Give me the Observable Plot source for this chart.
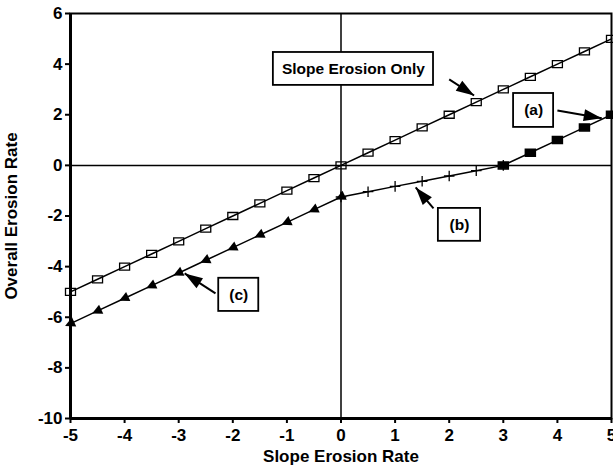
<!DOCTYPE html>
<html><head><meta charset="utf-8">
<script src="https://cdn.jsdelivr.net/npm/d3@7"></script>
<script src="https://cdn.jsdelivr.net/npm/@observablehq/plot@0.6"></script>
<style>body{margin:0;background:#fff}</style>
</head><body><div id="chart"></div>
<script>
// ---- data ----
const xTicks = [-5, -4, -3, -2, -1, 0, 1, 2, 3, 4, 5];
const yTicks = [-10, -8, -6, -4, -2, 0, 2, 4, 6];

const slopeX = [-5, -4.5, -4, -3.5, -3, -2.5, -2, -1.5, -1, -0.5, 0, 0.5, 1, 1.5, 2, 2.5, 3, 3.5, 4, 4.5, 5];
const slopeY = [-5, -4.5, -4, -3.5, -3, -2.5, -2, -1.5, -1, -0.5, 0, 0.5, 1, 1.5, 2, 2.5, 3, 3.5, 4, 4.5, 5];

const cX = [-5, -4.5, -4, -3.5, -3, -2.5, -2, -1.5, -1, -0.5, 0];
const cY = [-6.25, -5.75, -5.25, -4.75, -4.25, -3.75, -3.25, -2.75, -2.25, -1.75, -1.25];

const bX = [0, 0.5, 1, 1.5, 2, 2.5, 3];
const bY = [-1.25, -1.04, -0.83, -0.63, -0.42, -0.21, 0];

const aX = [3, 3.5, 4, 4.5, 5];
const aY = [0, 0.5, 1, 1.5, 2];

// annotation boxes (data units)
const boxLabels = ["Slope Erosion Only", "(a)", "(b)", "(c)"];
const boxX1 = [-1.25, 3.19, 1.80, -2.26];
const boxX2 = [1.71, 3.93, 2.58, -1.52];
const boxY1 = [4.46, 2.84, -1.70, -4.46];
const boxY2 = [3.16, 1.50, -3.00, -5.77];

// annotation arrows: tail -> tip (data units)
const arrX1 = [2.00, 4.00, 1.71, -2.32];
const arrY1 = [3.40, 2.17, -1.70, -5.06];
const arrX2 = [2.46, 4.82, 1.38, -2.89];
const arrY2 = [2.76, 1.86, -0.87, -4.27];

// ---- tables ----
const toRows = (xs, ys) => xs.map((x, i) => ({x, y: ys[i]}));
const slope = toRows(slopeX, slopeY);
const cRows = toRows(cX, cY);
const bRows = toRows(bX, bY);
const aRows = toRows(aX, aY);
const boxes = boxLabels.map((t, i) => ({t, x1: boxX1[i], x2: boxX2[i], y1: boxY1[i], y2: boxY2[i]}));

const base = {
  width: 613, height: 469,
  marginLeft: 70, marginRight: 2, marginTop: 13, marginBottom: 51,
  x: {domain: [-5, 5]},
  y: {domain: [-10, 6]},
  style: {fontFamily: "'Liberation Sans', Arial, Helvetica, sans-serif", fontSize: "17px", fontWeight: "bold", background: "#fff", overflow: "hidden"}
};

// first pass to read the scales
const probe = Plot.plot({...base, axis: null, marks: [Plot.frame()]});
const sx = probe.scale("x"), sy = probe.scale("y");
const X = d3.scaleLinear(sx.domain, sx.range);
const Y = d3.scaleLinear(sy.domain, sy.range);
const arrows = arrX1.map((x1, i) => {
  const dx = X(arrX2[i]) - X(x1), dy = Y(arrY2[i]) - Y(arrY1[i]);
  return {x1, y1: arrY1[i], x2: arrX2[i], y2: arrY2[i], rot: Math.atan2(dx, -dy) * 180 / Math.PI};
});

// custom symbols
const rectSym = {draw(ctx) { ctx.moveTo(-5, -3.5); ctx.lineTo(5, -3.5); ctx.lineTo(5, 3.5); ctx.lineTo(-5, 3.5); ctx.closePath(); }};
const headSym = {draw(ctx) { ctx.moveTo(0, 0); ctx.lineTo(6, 18); ctx.lineTo(-6, 18); ctx.closePath(); }};
const triSym = {draw(ctx) { ctx.moveTo(0, -6); ctx.lineTo(5, 4); ctx.lineTo(-5, 4); ctx.closePath(); }};

const chart = Plot.plot({
  ...base,
  marks: [
    Plot.ruleY([0], {stroke: "#000", strokeWidth: 1.5}),
    Plot.ruleX([0], {stroke: "#000", strokeWidth: 1.5}),
    Plot.frame({stroke: "#000", strokeWidth: 2}),
    Plot.ruleX([-5], {stroke: "#000", strokeWidth: 3}),
    Plot.ruleY([-10], {stroke: "#000", strokeWidth: 3}),
    Plot.axisX({ticks: xTicks, tickSize: 5, tickPadding: 5, tickFormat: d => String(d), strokeWidth: 2, fontSize: 17,
      label: "Slope Erosion Rate", labelAnchor: "center", labelOffset: 43, labelArrow: false, fontWeight: "bold"}),
    Plot.axisY({ticks: yTicks, tickSize: 5, tickPadding: 3, tickFormat: d => String(d), strokeWidth: 2, fontSize: 17,
      label: "Overall Erosion Rate", labelAnchor: "center", labelOffset: 66, labelArrow: false, fontWeight: "bold"}),
    Plot.line(slope, {x: "x", y: "y", stroke: "#000", strokeWidth: 1.5}),
    Plot.line(cRows, {x: "x", y: "y", stroke: "#000", strokeWidth: 1.5}),
    Plot.line(bRows, {x: "x", y: "y", stroke: "#000", strokeWidth: 1.5}),
    Plot.line(aRows, {x: "x", y: "y", stroke: "#000", strokeWidth: 1.5}),
    Plot.dot(slope, {x: "x", y: "y", symbol: rectSym, stroke: "#000", strokeWidth: 1.3, fill: "none"}),
    Plot.dot(cRows, {x: "x", y: "y", symbol: triSym, fill: "#000", stroke: "none", rotate: -115}),
    Plot.dot(bRows, {x: "x", y: "y", symbol: "plus", r: 3.5, stroke: "#000", strokeWidth: 1.3}),
    Plot.dot(aRows, {x: "x", y: "y", symbol: rectSym, fill: "#000", stroke: "#000"}),
    Plot.rect(boxes, {x1: "x1", x2: "x2", y1: "y1", y2: "y2", fill: "#fff", stroke: "#000", strokeWidth: 1.8}),
    Plot.text(boxes, {x: d => (d.x1 + d.x2) / 2, y: d => (d.y1 + d.y2) / 2, text: "t", fontSize: 15.5, fontWeight: "bold", fill: "#000"}),
    Plot.link(arrows, {x1: "x1", y1: "y1", x2: "x2", y2: "y2", stroke: "#000", strokeWidth: 2}),
    Plot.dot(arrows, {x: "x2", y: "y2", symbol: headSym, rotate: "rot", fill: "#000", stroke: "none"})
  ]
});
document.getElementById("chart").appendChild(chart);
</script>
</body></html>
